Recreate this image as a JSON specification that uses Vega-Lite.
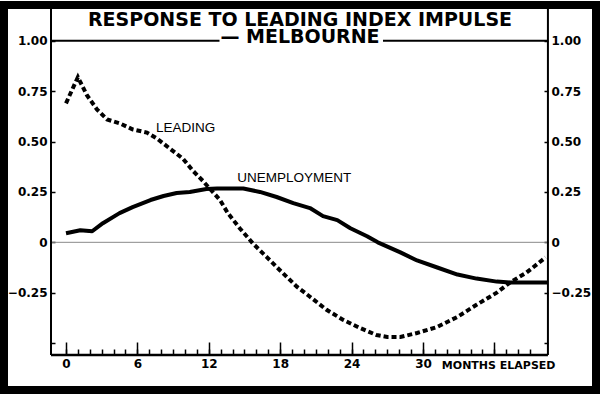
{
  "$schema": "https://vega.github.io/schema/vega-lite/v6.json",
  "width": 600,
  "height": 394,
  "autosize": {"type": "fit", "contains": "padding"},
  "padding": 4,
  "background": "white",
  "data": {"values": [{"frame": 1}]},
  "config": {
    "view": {"stroke": "black", "strokeWidth": 8, "fill": "white"},
    "axis": {
      "labelFont": "DejaVu Sans",
      "labelFontWeight": "bold",
      "labelFontSize": 12,
      "labelColor": "black",
      "tickColor": "black",
      "tickWidth": 1.5,
      "grid": false,
      "domain": false
    }
  },
  "title": {
    "text": "RESPONSE TO LEADING INDEX IMPULSE",
    "subtitle": "— MELBOURNE",
    "anchor": "middle",
    "frame": "group",
    "offset": -43,
    "font": "DejaVu Sans",
    "fontSize": 19,
    "fontWeight": "bold",
    "color": "black",
    "subtitleFont": "DejaVu Sans",
    "subtitleFontSize": 19,
    "subtitleFontWeight": "bold",
    "subtitleColor": "black",
    "subtitlePadding": -2
  },
  "datasets": {
    "series": [
      {"series": "Leading", "month": 0.0, "value": 0.69},
      {"series": "Leading", "month": 1.0, "value": 0.82},
      {"series": "Leading", "month": 1.76, "value": 0.73},
      {"series": "Leading", "month": 2.6, "value": 0.66},
      {"series": "Leading", "month": 3.45, "value": 0.61},
      {"series": "Leading", "month": 4.54, "value": 0.59},
      {"series": "Leading", "month": 5.63, "value": 0.56},
      {"series": "Leading", "month": 6.8, "value": 0.545},
      {"series": "Leading", "month": 7.65, "value": 0.515},
      {"series": "Leading", "month": 8.74, "value": 0.465},
      {"series": "Leading", "month": 9.83, "value": 0.415},
      {"series": "Leading", "month": 10.67, "value": 0.355},
      {"series": "Leading", "month": 11.5, "value": 0.305},
      {"series": "Leading", "month": 12.1, "value": 0.265},
      {"series": "Leading", "month": 12.94, "value": 0.21},
      {"series": "Leading", "month": 13.6, "value": 0.145},
      {"series": "Leading", "month": 14.6, "value": 0.07},
      {"series": "Leading", "month": 15.7, "value": -0.005},
      {"series": "Leading", "month": 16.9, "value": -0.075},
      {"series": "Leading", "month": 18.0, "value": -0.14},
      {"series": "Leading", "month": 19.4, "value": -0.22},
      {"series": "Leading", "month": 20.5, "value": -0.27},
      {"series": "Leading", "month": 21.9, "value": -0.335},
      {"series": "Leading", "month": 23.3, "value": -0.385},
      {"series": "Leading", "month": 24.7, "value": -0.425},
      {"series": "Leading", "month": 26.1, "value": -0.46},
      {"series": "Leading", "month": 27.0, "value": -0.47},
      {"series": "Leading", "month": 28.1, "value": -0.47},
      {"series": "Leading", "month": 29.5, "value": -0.45},
      {"series": "Leading", "month": 31.2, "value": -0.42},
      {"series": "Leading", "month": 32.9, "value": -0.37},
      {"series": "Leading", "month": 34.5, "value": -0.31},
      {"series": "Leading", "month": 36.2, "value": -0.25},
      {"series": "Leading", "month": 37.3, "value": -0.2},
      {"series": "Leading", "month": 38.7, "value": -0.15},
      {"series": "Leading", "month": 40.3, "value": -0.075},
      {"series": "Unemployment", "month": 0.0, "value": 0.045},
      {"series": "Unemployment", "month": 1.2, "value": 0.06},
      {"series": "Unemployment", "month": 2.2, "value": 0.055},
      {"series": "Unemployment", "month": 3.1, "value": 0.095},
      {"series": "Unemployment", "month": 4.5, "value": 0.145},
      {"series": "Unemployment", "month": 5.6, "value": 0.175},
      {"series": "Unemployment", "month": 7.1, "value": 0.21},
      {"series": "Unemployment", "month": 8.2, "value": 0.23},
      {"series": "Unemployment", "month": 9.3, "value": 0.245},
      {"series": "Unemployment", "month": 10.4, "value": 0.25},
      {"series": "Unemployment", "month": 11.8, "value": 0.265},
      {"series": "Unemployment", "month": 12.7, "value": 0.267},
      {"series": "Unemployment", "month": 14.9, "value": 0.267},
      {"series": "Unemployment", "month": 16.3, "value": 0.25},
      {"series": "Unemployment", "month": 17.7, "value": 0.225},
      {"series": "Unemployment", "month": 19.1, "value": 0.195},
      {"series": "Unemployment", "month": 20.5, "value": 0.17},
      {"series": "Unemployment", "month": 21.6, "value": 0.13},
      {"series": "Unemployment", "month": 22.8, "value": 0.11},
      {"series": "Unemployment", "month": 23.9, "value": 0.07},
      {"series": "Unemployment", "month": 25.3, "value": 0.03},
      {"series": "Unemployment", "month": 26.2, "value": 0.0},
      {"series": "Unemployment", "month": 28.1, "value": -0.05},
      {"series": "Unemployment", "month": 29.5, "value": -0.09},
      {"series": "Unemployment", "month": 31.2, "value": -0.125},
      {"series": "Unemployment", "month": 32.9, "value": -0.16},
      {"series": "Unemployment", "month": 34.5, "value": -0.18},
      {"series": "Unemployment", "month": 36.2, "value": -0.195},
      {"series": "Unemployment", "month": 37.3, "value": -0.2},
      {"series": "Unemployment", "month": 40.5, "value": -0.2}
    ],
    "labels": [
      {"label": "LEADING", "month": 7.56, "value": 0.569},
      {"label": "UNEMPLOYMENT", "month": 14.4, "value": 0.317}
    ]
  },
  "resolve": {"axis": {"x": "independent", "y": "independent"}},
  "layer": [
    {
      "mark": {"type": "rule", "color": "#8a8a8a", "strokeWidth": 1},
      "encoding": {
        "x": {"datum": -1.26, "type": "quantitative", "scale": {"domain": [-5.21, 44.54], "nice": false, "zero": false}, "axis": null},
        "x2": {"datum": 40.5},
        "y": {"datum": 0, "type": "quantitative", "scale": {"domain": [-0.733, 1.178], "nice": false, "zero": false}, "axis": null}
      }
    },
    {
      "mark": {"type": "rule", "color": "black", "strokeWidth": 2},
      "encoding": {
        "x": {"datum": -1.26, "type": "quantitative", "scale": {"domain": [-5.21, 44.54], "nice": false, "zero": false}, "axis": null},
        "y": {"datum": 1.178, "type": "quantitative", "scale": {"domain": [-0.733, 1.178], "nice": false, "zero": false},
          "axis": {"orient": "left", "offset": -47, "title": null, "values": [-0.5, -0.25, 0, 0.25, 0.5, 0.75, 1],
            "labelExpr": "datum.value == -0.5 ? '' : (datum.value == 0 ? '0' : format(datum.value, '.2f'))",
            "tickSize": -4, "labelPadding": 8}},
        "y2": {"datum": -0.559}
      }
    },
    {
      "mark": {"type": "rule", "color": "black", "strokeWidth": 2},
      "encoding": {
        "x": {"datum": 40.5, "type": "quantitative", "scale": {"domain": [-5.21, 44.54], "nice": false, "zero": false}, "axis": null},
        "y": {"datum": 1.178, "type": "quantitative", "scale": {"domain": [-0.733, 1.178], "nice": false, "zero": false},
          "axis": {"orient": "right", "offset": -48, "title": null, "values": [-0.5, -0.25, 0, 0.25, 0.5, 0.75, 1],
            "labelExpr": "datum.value == -0.5 ? '' : (datum.value == 0 ? '0' : format(datum.value, '.2f'))",
            "tickSize": -4, "labelPadding": 7}},
        "y2": {"datum": -0.559}
      }
    },
    {
      "mark": {"type": "rule", "color": "black", "strokeWidth": 2.5},
      "encoding": {
        "x": {"datum": -1.26, "type": "quantitative", "scale": {"domain": [-5.21, 44.54], "nice": false, "zero": false},
          "axis": {"orient": "bottom", "offset": -35, "values": [0, 6, 12, 18, 24, 30, 36],
            "labelExpr": "datum.value > 30 ? '' : format(datum.value, 'd')",
            "tickSize": -13, "labelPadding": 16,
            "title": "MONTHS ELAPSED", "titleFont": "DejaVu Sans", "titleFontWeight": "bold", "titleFontSize": 11,
            "titleColor": "black", "titleAnchor": "end", "titleAlign": "right", "titleBaseline": "alphabetic",
            "titleX": 551, "titleY": 13}},
        "x2": {"datum": 40.5},
        "y": {"datum": -0.559, "type": "quantitative", "scale": {"domain": [-0.733, 1.178], "nice": false, "zero": false}, "axis": null}
      }
    },
    {
      "mark": {"type": "rule", "color": "black", "strokeWidth": 2},
      "encoding": {
        "x": {"datum": -1.26, "type": "quantitative", "scale": {"domain": [-5.21, 44.54], "nice": false, "zero": false},
          "axis": {"orient": "bottom", "offset": -35, "title": null, "labels": false,
            "values": [0,1,2,3,4,5,6,7,8,9,10,11,12,13,14,15,16,17,18,19,20,21,22,23,24,25,26,27,28,29,30,31,32,33,34,35,36,37,38,39],
            "tickSize": -6}},
        "x2": {"datum": 12.9},
        "y": {"datum": 1, "type": "quantitative", "scale": {"domain": [-0.733, 1.178], "nice": false, "zero": false}, "axis": null}
      }
    },
    {
      "mark": {"type": "rule", "color": "black", "strokeWidth": 2},
      "encoding": {
        "x": {"datum": 26.64, "type": "quantitative", "scale": {"domain": [-5.21, 44.54], "nice": false, "zero": false}, "axis": null},
        "x2": {"datum": 40.5},
        "y": {"datum": 1, "type": "quantitative", "scale": {"domain": [-0.733, 1.178], "nice": false, "zero": false}, "axis": null}
      }
    },
    {
      "data": {"name": "series"},
      "transform": [{"filter": "datum.series == 'Leading'"}],
      "mark": {"type": "line", "color": "black", "strokeWidth": 4, "strokeDash": [5, 3], "strokeCap": "butt"},
      "encoding": {
        "x": {"field": "month", "type": "quantitative", "scale": {"domain": [-5.21, 44.54], "nice": false, "zero": false}, "axis": null},
        "y": {"field": "value", "type": "quantitative", "scale": {"domain": [-0.733, 1.178], "nice": false, "zero": false}, "axis": null}
      }
    },
    {
      "data": {"name": "series"},
      "transform": [{"filter": "datum.series == 'Unemployment'"}],
      "mark": {"type": "line", "color": "black", "strokeWidth": 4, "strokeJoin": "round"},
      "encoding": {
        "x": {"field": "month", "type": "quantitative", "scale": {"domain": [-5.21, 44.54], "nice": false, "zero": false}, "axis": null},
        "y": {"field": "value", "type": "quantitative", "scale": {"domain": [-0.733, 1.178], "nice": false, "zero": false}, "axis": null}
      }
    },
    {
      "data": {"name": "labels"},
      "mark": {"type": "text", "align": "left", "baseline": "middle", "font": "Liberation Sans", "fontSize": 13.5, "color": "black"},
      "encoding": {
        "x": {"field": "month", "type": "quantitative", "scale": {"domain": [-5.21, 44.54], "nice": false, "zero": false}, "axis": null},
        "y": {"field": "value", "type": "quantitative", "scale": {"domain": [-0.733, 1.178], "nice": false, "zero": false}, "axis": null},
        "text": {"field": "label"}
      }
    }
  ]
}
